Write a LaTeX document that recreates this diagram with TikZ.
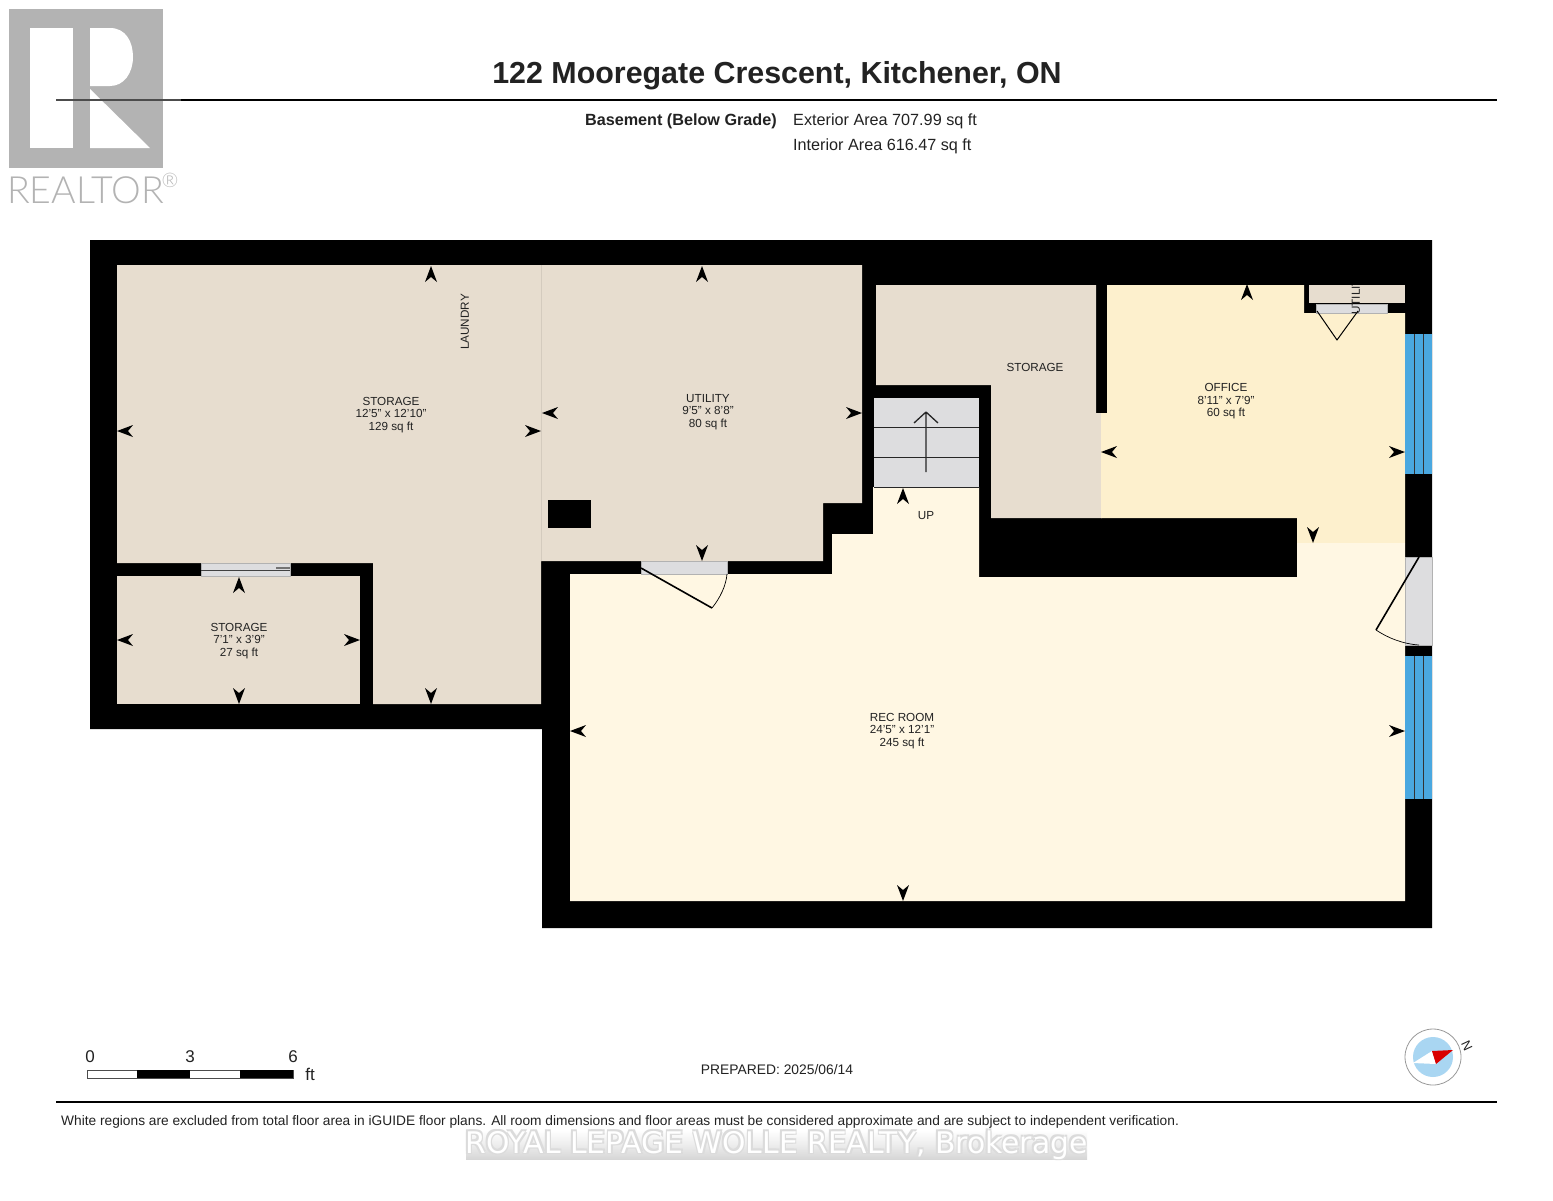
\documentclass[tikz,border=0pt]{standalone}
\usepackage{fontspec}
\setmainfont{Liberation Sans}
\newfontfamily\markfont{DejaVu Sans}
\newfontfamily\logofont{Lato Light}
\definecolor{roombeige}{HTML}{E7DDCF}
\definecolor{roomoffice}{HTML}{FDF0CD}
\definecolor{roomrec}{HTML}{FFF7E3}
\definecolor{doorgrey}{HTML}{DDDDDF}
\definecolor{glassblue}{HTML}{4AA8E0}
\definecolor{logogrey}{HTML}{B3B3B3}
\definecolor{compassblue}{HTML}{A9D6F2}
\definecolor{textdark}{HTML}{222222}
\tikzset{
    roomlabel/.style={align=center,font=\fontsize{11.7}{12.5}\selectfont,text=textdark,inner sep=0pt},
    infolabel/.style={anchor=west,font=\fontsize{16.2}{16.2}\selectfont,text=textdark,inner sep=0pt},
    scalelabel/.style={font=\fontsize{17}{17}\selectfont,text=textdark,inner sep=0pt},
    marklabel/.style={inner sep=0pt,font=\fontsize{29.8}{29.8}\selectfont\markfont},
    doorleaf/.style={draw=black,line width=1.6pt,line join=round},
    doorgap/.style={fill=doorgrey,draw=black!30,line width=0.3pt},
    dimtip/.style={fill=black}
}
\newcommand{\dimarrow}[3]{\fill[dimtip,shift={(#1,#2)},rotate=#3] (0,0) -- (-16,-6) -- (-11,0) -- (-16,6) -- cycle;}
\newcommand{\windowpane}[2]{
    \fill[glassblue] (1405,#1) rectangle (1432,#2);
    \draw[black!80,line width=0.7pt] (1414,#1) -- (1414,#2) (1423,#1) -- (1423,#2);
}
\begin{document}
\begin{tikzpicture}[x=1pt,y=-1pt]
\useasboundingbox (0,0) rectangle (1553,1200);
\fill[white] (0,0) rectangle (1553,1200);

% logo
\fill[logogrey] (9,9) rectangle (163,168);
\fill[white] (30,28) rectangle (73,148);
\fill[white] (90,28) -- (110,28) .. controls (126,28) and (133,42) .. (133,57)
    .. controls (133,73) and (124,86) .. (110,86) -- (90,86) -- cycle;
\fill[white] (90,89) -- (150,148) -- (90,148) -- cycle;
\node[anchor=west,inner sep=0pt,text=logogrey,font=\fontsize{37.5}{37.5}\selectfont\logofont] (logotext) at (7,190) {REALTOR};
\node[inner sep=0pt,text=logogrey,font=\fontsize{20}{20}\selectfont\logofont] (logomark) at (170,180) {®};

% heading
\draw[black!70,line width=1.5pt] (56,100) -- (181,100);
\draw[black,line width=2.5pt] (181,100) -- (1497,100);
\node[inner sep=0pt,font=\fontsize{30.4}{30.4}\selectfont\bfseries,text=textdark] (title) at (777,76) {122 Mooregate Crescent, Kitchener, ON};
\node[infolabel,anchor=east,font=\fontsize{16.2}{16.2}\selectfont\bfseries] (level) at (777,121) {Basement (Below Grade)};
\node[infolabel] (exterior) at (793,121) {Exterior Area 707.99 sq ft};
\node[infolabel] (interior) at (793,146) {Interior Area 616.47 sq ft};

% walls
\fill[black] (90,240) -- (1432,240) -- (1432,928) -- (542,928) -- (542,729) -- (90,729) -- cycle;

% rooms
\fill[roombeige] (117,265) -- (862,265) -- (862,503) -- (823,503) -- (823,561) -- (541,561)
    -- (541,704) -- (373,704) -- (373,563) -- (117,563) -- cycle;
\draw[black!8!roombeige,line width=0.6pt] (541,265) -- (541,561);
\fill[roombeige] (117,576) rectangle (360,704);
\fill[roombeige] (876,285) -- (1096,285) -- (1096,413) -- (1102,413) -- (1102,518) -- (991,518)
    -- (991,385) -- (876,385) -- cycle;
\fill[roomoffice] (1107,285) -- (1304,285) -- (1304,313) -- (1405,313) -- (1405,543) -- (1297,543)
    -- (1297,518) -- (1101,518) -- (1101,413) -- (1107,413) -- cycle;
\fill[roomrec] (570,574) -- (832,574) -- (832,534) -- (873,534) -- (873,487) -- (979,487)
    -- (979,577) -- (1297,577) -- (1297,543) -- (1405,543) -- (1405,901) -- (570,901) -- cycle;
\fill[roombeige] (1309,285) rectangle (1405,303);
\fill[black] (548,500) rectangle (591,528);

% stairs
\fill[doorgrey] (874,398) rectangle (979,487);
\draw[black!85,line width=0.9pt] (874,427) -- (979,427) (874,457) -- (979,457) (874,487) -- (979,487);
\draw[black!85,line width=1.3pt,line join=round] (926,472) -- (926,412) (914,423) -- (926,412) -- (938,423);

% doors
\fill[doorgap] (641,561) rectangle (727,574);
\draw[doorleaf] (641,568) -- (712,608);
\draw[black,line width=0.7pt] (712,608) .. controls (720,598) and (726,586) .. (727,574);
\fill[doorgap] (201,563) rectangle (290,576);
\draw[black!75,line width=1pt] (201,570) -- (290,570);
\fill[black!55] (276,566.5) rectangle (290,568.5);
\fill[doorgap] (1316,304) rectangle (1387,313);
\draw[doorleaf,line width=1pt] (1317,311) -- (1337,340) -- (1358,311);
\fill[doorgap] (1405,557) rectangle (1432,645);
\draw[doorleaf] (1419,557) -- (1376,630);
\draw[black,line width=0.7pt] (1376,630) .. controls (1388,638) and (1403,644) .. (1419,645);

% windows
\windowpane{334}{474}
\windowpane{656}{799}

% dimension arrows
\dimarrow{431}{266}{90}
\dimarrow{117}{431}{180}
\dimarrow{541}{431}{0}
\dimarrow{431}{704}{-90}
\dimarrow{702}{266}{90}
\dimarrow{542}{413}{180}
\dimarrow{862}{413}{0}
\dimarrow{702}{561}{-90}
\dimarrow{239}{577}{90}
\dimarrow{117}{640}{180}
\dimarrow{360}{640}{0}
\dimarrow{239}{704}{-90}
\dimarrow{1247}{284}{90}
\dimarrow{1101}{452}{180}
\dimarrow{1405}{452}{0}
\dimarrow{1313}{543}{-90}
\dimarrow{903}{488}{90}
\dimarrow{570}{731}{180}
\dimarrow{1405}{731}{0}
\dimarrow{903}{901}{-90}

% room labels
\node[roomlabel] (storagelarge) at (391,415) {STORAGE\\12'5" x 12'10"\\129 sq ft};
\node[roomlabel] (utilityroom) at (708,412) {UTILITY\\9'5" x 8'8"\\80 sq ft};
\node[roomlabel] (storagesmall) at (239,641) {STORAGE\\7'1" x 3'9"\\27 sq ft};
\node[roomlabel] (office) at (1226,401.5) {OFFICE\\8'11" x 7'9"\\60 sq ft};
\node[roomlabel] (recroom) at (902,731) {REC ROOM\\24'5" x 12'1"\\245 sq ft};
\node[roomlabel] (storageupper) at (1035,367) {STORAGE};
\node[roomlabel] (uplabel) at (926,516) {UP};
\node[roomlabel,rotate=90] (laundry) at (465,322) {LAUNDRY};
\begin{scope}
    \clip (1340,285) rectangle (1372,325);
    \node[roomlabel,rotate=90,anchor=west] (utilitycloset) at (1356,315) {UTILITY};
\end{scope}

% scale bar
\draw[black!70,line width=0.5pt,fill=white] (87,1070) rectangle (293,1078);
\fill[black] (137,1070) rectangle (190,1078);
\fill[black] (240,1070) rectangle (293,1078);
\node[scalelabel] (scalezero) at (90,1057) {0};
\node[scalelabel] (scalethree) at (190,1057) {3};
\node[scalelabel] (scalesix) at (293,1057) {6};
\node[scalelabel] (scaleunit) at (310,1074) {ft};

\node[inner sep=0pt,font=\fontsize{13.85}{14}\selectfont,text=textdark] (prepared) at (777,1070) {PREPARED: 2025/06/14};

% compass
\draw[black!40,fill=white,line width=0.8pt] (1433,1057) circle (28);
\fill[compassblue] (1433,1057) circle (20);
\fill[white] (1413,1063) -- (1432,1051) -- (1436,1064) -- cycle;
\fill[red!85!black] (1432,1051) -- (1453,1050) -- (1436,1064) -- cycle;
\node[inner sep=0pt,rotate=-65,font=\fontsize{13}{13}\selectfont,text=textdark] (north) at (1467,1046) {N};

% footer
\draw[black,line width=2.5pt] (56,1102) -- (1497,1102);
\node[anchor=west,inner sep=0pt,font=\fontsize{13.73}{14}\selectfont,text=textdark] (disclaimer) at (61,1122) {White regions are excluded from total floor area in iGUIDE floor plans. All room dimensions and floor areas must be considered approximate and are subject to independent verification.};
\shade[top color=white,bottom color=black!16,middle color=black!7,shading angle=0] (466,1130) rectangle (1087,1159);
\foreach \dx/\dy in {-1.5/-1.5,1.5/-1.5,-1.5/1.5,1.5/1.5}
    \node[marklabel,text=black!14] (markhalo) at (776.5+\dx,1145+\dy) {ROYAL LEPAGE WOLLE REALTY, Brokerage};
\node[marklabel,text=white] (watermark) at (776.5,1145) {ROYAL LEPAGE WOLLE REALTY, Brokerage};
\end{tikzpicture}
\end{document}
